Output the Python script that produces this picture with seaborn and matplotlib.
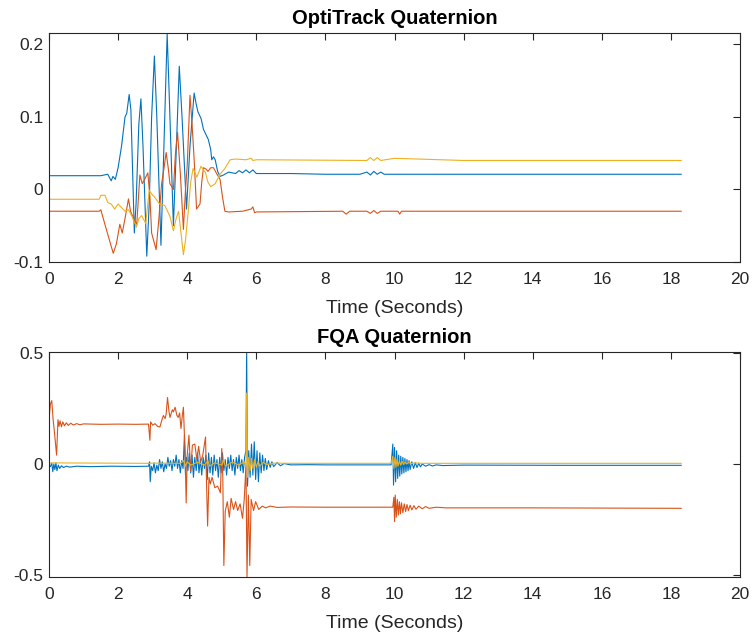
import matplotlib
matplotlib.use("Agg")
import matplotlib.pyplot as plt
import seaborn as sns

# ---- OptiTrack quaternion (top panel) ----
opti_blue_t = [0, 1.5, 1.7, 1.8, 1.85, 1.92, 2.0, 2.1, 2.2, 2.25, 2.32, 2.37, 2.47, 2.52, 2.6, 2.66,
               2.72, 2.83, 2.9, 2.97, 3.05, 3.12, 3.24, 3.32, 3.42, 3.5, 3.6, 3.68, 3.77, 3.85, 3.98,
               4.08, 4.2, 4.25, 4.31, 4.4, 4.47, 4.55, 4.61, 4.68, 4.71, 4.76, 4.81, 4.88, 4.95, 5.05,
               5.2, 5.4, 5.5, 5.6, 5.7, 5.8, 5.9, 6.0, 6.2, 7.0, 8.0, 9.0, 9.2, 9.3, 9.4, 9.5, 9.6,
               9.7, 10.5, 12.0, 14.0, 16.0, 18.3]
opti_blue = [0.019, 0.019, 0.021, 0.012, 0.018, 0.014, 0.03, 0.06, 0.1, 0.105, 0.131, 0.11, -0.06,
             -0.02, 0.09, 0.125, 0.06, -0.092, -0.02, 0.1, 0.184, 0.1, -0.077, 0.05, 0.215, 0.1, -0.05,
             0.05, 0.17, 0.1, -0.027, 0.06, 0.133, 0.12, 0.107, 0.098, 0.083, 0.075, 0.069, 0.055, 0.041,
             0.045, 0.041, 0.025, 0.018, 0.02, 0.024, 0.022, 0.026, 0.023, 0.027, 0.023, 0.027, 0.022,
             0.022, 0.022, 0.021, 0.021, 0.024, 0.02, 0.025, 0.021, 0.024, 0.021, 0.021, 0.021, 0.021,
             0.021, 0.021]

opti_orange_t = [0, 1.45, 1.5, 1.6, 1.75, 1.86, 1.95, 2.05, 2.12, 2.2, 2.3, 2.36, 2.45, 2.54, 2.63,
                 2.7, 2.78, 2.86, 2.92, 2.97, 3.1, 3.18, 3.26, 3.33, 3.39, 3.45, 3.5, 3.6, 3.66, 3.72,
                 3.8, 3.89, 3.95, 4.0, 4.08, 4.14, 4.2, 4.27, 4.37, 4.42, 4.47, 4.55, 4.6, 4.68, 4.76,
                 4.85, 4.95, 5.02, 5.09, 5.2, 5.6, 5.85, 5.9, 5.95, 6.0, 8.5, 8.6, 8.7, 9.2, 9.3, 9.4,
                 9.5, 9.6, 10.1, 10.15, 10.2, 12.0, 18.3]
opti_orange = [-0.030, -0.030, -0.028, -0.045, -0.07, -0.088, -0.075, -0.048, -0.06, -0.04, -0.013,
               -0.03, -0.04, -0.048, 0.02, 0.008, 0.015, 0.023, -0.01, -0.06, -0.083, -0.04, 0.008,
               0.03, 0.051, 0.03, 0.008, 0.0, 0.05, 0.079, 0.023, -0.055, 0.0, 0.033, 0.13, 0.09, 0.042,
               -0.027, -0.02, 0.01, 0.03, 0.028, 0.025, 0.03, 0.03, 0.022, 0.014, -0.01, -0.03, -0.031,
               -0.03, -0.027, -0.024, -0.032, -0.031, -0.030, -0.034, -0.030, -0.030, -0.033, -0.029,
               -0.033, -0.030, -0.030, -0.034, -0.030, -0.030, -0.030]

opti_yellow_t = [0, 1.45, 1.5, 1.62, 1.7, 1.8, 1.9, 2.0, 2.1, 2.2, 2.3, 2.4, 2.53, 2.6, 2.68, 2.8,
                 2.9, 3.0, 3.05, 3.2, 3.35, 3.5, 3.6, 3.68, 3.75, 3.82, 3.89, 3.95, 4.03, 4.1, 4.17,
                 4.28, 4.4, 4.53, 4.6, 4.68, 4.81, 4.95, 5.09, 5.24, 5.4, 5.7, 5.85, 5.9, 6.0, 9.2,
                 9.3, 9.4, 9.5, 9.6, 10.0, 12.0, 18.3]
opti_yellow = [-0.0135, -0.0135, -0.008, -0.008, -0.018, -0.02, -0.027, -0.02, -0.025, -0.03, -0.028,
               -0.037, -0.052, -0.04, -0.036, -0.047, -0.001, -0.008, -0.01, -0.02, -0.022, -0.037,
               -0.057, -0.04, -0.03, -0.06, -0.09, -0.07, -0.03, 0.01, 0.029, 0.017, 0.032, 0.023, 0.01,
               0.004, 0.008, 0.021, 0.029, 0.041, 0.042, 0.041, 0.043, 0.04, 0.041, 0.040, 0.044, 0.040,
               0.044, 0.040, 0.043, 0.040, 0.040]

# ---- FQA quaternion (bottom panel) ----
fqa_blue_t = [0, 0.04, 0.08, 0.11, 0.14, 0.17, 0.2, 0.23, 0.27, 0.31, 0.36, 0.42, 0.5, 0.6, 0.8, 1.2,
              1.8, 2.5, 2.88, 2.91, 2.93, 2.96, 3.0, 3.04, 3.08, 3.12, 3.16, 3.2, 3.24, 3.28, 3.32,
              3.36, 3.4, 3.44, 3.48, 3.52, 3.56, 3.6, 3.64, 3.68, 3.72, 3.76, 3.8, 3.84, 3.88, 3.92,
              3.95, 3.98, 4.02, 4.06, 4.1, 4.14, 4.18, 4.22, 4.26, 4.3, 4.34, 4.38, 4.42, 4.46, 4.5,
              4.54, 4.58, 4.62, 4.66, 4.7, 4.74, 4.78, 4.82, 4.86, 4.9, 4.94, 4.98, 5.02, 5.06, 5.1,
              5.14, 5.18, 5.22, 5.26, 5.3, 5.34, 5.38, 5.42, 5.46, 5.5, 5.54, 5.58, 5.62, 5.66, 5.7,
              5.72, 5.745, 5.78, 5.82, 5.86, 5.9, 5.94, 5.98, 6.02, 6.06, 6.1, 6.14, 6.18, 6.22, 6.26,
              6.3, 6.35, 6.4, 6.45, 6.5, 6.6, 6.7, 6.8, 7.0, 7.5, 8.0, 9.0, 9.9, 9.95, 9.97, 10.0,
              10.03, 10.06, 10.09, 10.12, 10.15, 10.18, 10.21, 10.24, 10.27, 10.3, 10.33, 10.36, 10.39,
              10.42, 10.45, 10.5, 10.55, 10.6, 10.65, 10.7, 10.75, 10.8, 10.9, 11.0, 11.1, 11.2, 11.4,
              12.0, 15.0, 18.3]
fqa_blue = [-0.005, -0.012, 0.004, -0.035, 0.0, -0.025, 0.005, -0.03, -0.005, -0.02, -0.008, -0.016,
            -0.01, -0.014, -0.01, -0.012, -0.01, -0.011, -0.01, 0.01, -0.08, -0.01, -0.03, 0.005,
            -0.04, -0.005, -0.03, 0.02, -0.02, 0.01, -0.035, 0.0, -0.02, 0.03, -0.01, 0.015, -0.03,
            0.02, -0.01, 0.04, -0.02, 0.02, -0.04, 0.015, -0.02, 0.13, -0.05, 0.03, -0.03, 0.05,
            -0.04, 0.04, -0.06, 0.03, -0.03, 0.05, -0.04, 0.02, -0.05, 0.03, -0.02, 0.04, -0.07, 0.05,
            -0.04, 0.03, -0.05, 0.04, -0.03, 0.02, -0.06, 0.03, -0.04, 0.05, -0.03, 0.02, -0.05, 0.03,
            -0.02, 0.04, -0.03, 0.02, -0.05, 0.03, -0.02, 0.04, -0.03, 0.02, -0.04, 0.03, 0.06, 0.52,
            -0.1, 0.06, -0.06, 0.09, -0.05, 0.1, -0.07, 0.06, -0.08, 0.05, -0.04, 0.04, -0.03, 0.025,
            -0.025, 0.015, -0.015, 0.01, -0.012, 0.006, -0.008, 0.002, -0.004, -0.003, -0.004, -0.004,
            -0.004, 0.09, -0.095, 0.075, -0.08, 0.06, -0.065, 0.04, -0.055, 0.035, -0.045, 0.03, -0.04,
            0.025, -0.035, 0.02, -0.03, 0.015, -0.025, 0.01, -0.02, 0.006, -0.016, 0.003, -0.013, 0.0,
            -0.01, -0.003, -0.009, -0.004, -0.007, -0.005, -0.006, -0.006]

fqa_orange_t = [0, 0.04, 0.08, 0.12, 0.16, 0.22, 0.26, 0.29, 0.32, 0.36, 0.4, 0.45, 0.5, 0.56, 0.63,
                0.7, 0.8, 0.9, 1.0, 1.5, 2.0, 2.5, 2.88, 2.92, 2.94, 3.0, 3.07, 3.14, 3.21, 3.27, 3.31,
                3.36, 3.39, 3.43, 3.47, 3.5, 3.57, 3.6, 3.65, 3.7, 3.74, 3.78, 3.82, 3.86, 3.89, 3.94,
                3.97, 4.0, 4.05, 4.1, 4.15, 4.22, 4.28, 4.33, 4.39, 4.45, 4.53, 4.56, 4.59, 4.63, 4.67,
                4.72, 4.8, 4.88, 4.96, 5.0, 5.03, 5.06, 5.1, 5.16, 5.22, 5.27, 5.34, 5.4, 5.46, 5.53,
                5.6, 5.65, 5.7, 5.73, 5.77, 5.81, 5.85, 5.92, 5.98, 6.07, 6.17, 6.27, 6.4, 6.6, 7.0,
                8.0, 9.0, 9.95, 9.98, 10.0, 10.02, 10.05, 10.08, 10.11, 10.14, 10.17, 10.2, 10.24,
                10.28, 10.32, 10.36, 10.4, 10.45, 10.5, 10.56, 10.62, 10.7, 10.8, 10.9, 11.0, 11.2,
                11.5, 14.0, 18.3]
fqa_orange = [0.2, 0.27, 0.286, 0.2, 0.14, 0.04, 0.2, 0.17, 0.195, 0.168, 0.19, 0.172, 0.186, 0.174,
              0.184, 0.176, 0.182, 0.177, 0.181, 0.179, 0.18, 0.179, 0.18, 0.107, 0.19, 0.175, 0.182,
              0.17, 0.167, 0.2, 0.219, 0.205, 0.225, 0.30, 0.24, 0.21, 0.245, 0.235, 0.256, 0.22, 0.21,
              0.23, 0.16, 0.22, 0.256, 0.04, -0.176, 0.04, 0.13, -0.034, 0.085, 0.09, 0.02, 0.08, 0.01,
              0.04, 0.122, -0.094, -0.28, -0.06, -0.09, -0.06, -0.107, -0.1, -0.13, 0.07, -0.06, -0.458,
              -0.213, -0.17, -0.24, -0.155, -0.205, -0.17, -0.21, -0.18, -0.245, -0.16, -0.005, -0.51,
              -0.14, -0.458, -0.16, -0.21, -0.17, -0.205, -0.19, -0.198, -0.19, -0.196, -0.194, -0.195,
              -0.195, -0.195, -0.15, -0.26, -0.14, -0.24, -0.16, -0.23, -0.17, -0.225, -0.175, -0.22,
              -0.18, -0.215, -0.183, -0.21, -0.186, -0.207, -0.188, -0.204, -0.19, -0.202, -0.192,
              -0.2, -0.195, -0.198, -0.198, -0.2]

fqa_yellow_t = [0, 0.1, 2.9, 3.0, 3.8, 3.9, 3.95, 4.0, 4.1, 4.3, 4.5, 4.6, 4.65, 4.8, 5.0, 5.05, 5.1,
                5.3, 5.5, 5.65, 5.7, 5.72, 5.745, 5.78, 5.82, 5.86, 5.9, 5.95, 6.0, 6.05, 6.1, 6.2, 6.3,
                6.5, 7.0, 9.9, 9.95, 9.98, 10.01, 10.04, 10.07, 10.1, 10.14, 10.18, 10.22, 10.26, 10.3,
                10.35, 10.4, 10.5, 10.6, 10.8, 18.3]
fqa_yellow = [0.003, 0.005, 0.003, 0.004, 0.003, 0.015, -0.01, 0.01, -0.005, 0.008, -0.005, 0.015,
              -0.01, 0.006, -0.005, 0.02, -0.01, 0.008, -0.004, 0.01, -0.01, 0.32, -0.06, 0.03, -0.03,
              0.025, -0.02, 0.02, -0.015, 0.012, -0.01, 0.008, -0.003, 0.004, 0.003, 0.003, 0.035,
              -0.02, 0.03, -0.015, 0.022, -0.01, 0.016, -0.006, 0.012, -0.003, 0.009, 0.0, 0.007, 0.002,
              0.005, 0.003, 0.003]

x_ticks = [0, 2, 4, 6, 8, 10, 12, 14, 16, 18, 20]
top_yticks = [-0.1, 0, 0.1, 0.2]
bottom_yticks = [-0.5, 0, 0.5]

colors = ["#0072BD", "#D95319", "#EDB120"]

sns.set_style("white")
plt.rcParams["font.family"] = ["Liberation Sans", "DejaVu Sans"]

fig = plt.figure(figsize=(7.56, 6.39), dpi=100)
ax1 = fig.add_axes([0.0648, 0.590, 0.9142, 0.358])
ax2 = fig.add_axes([0.0648, 0.097, 0.9142, 0.352])

panels = [
    (ax1, [(opti_blue_t, opti_blue), (opti_orange_t, opti_orange), (opti_yellow_t, opti_yellow)],
     "OptiTrack Quaternion", (-0.1, 0.2155), top_yticks),
    (ax2, [(fqa_blue_t, fqa_blue), (fqa_orange_t, fqa_orange), (fqa_yellow_t, fqa_yellow)],
     "FQA Quaternion", (-0.51, 0.505), bottom_yticks),
]

for ax, series, title, ylim, yticks in panels:
    for (t, v), c in zip(series, colors):
        sns.lineplot(x=t, y=v, ax=ax, color=c, linewidth=0.8, sort=False, estimator=None)
    ax.set_xlim(0, 20)
    ax.set_ylim(*ylim)
    ax.set_xticks(x_ticks)
    ax.set_yticks(yticks)
    ax.set_yticklabels([f"{y:g}" for y in yticks])
    ax.set_title(title, fontsize=14.5, fontweight="bold", pad=6.5, color="black")
    ax.set_xlabel("Time (Seconds)", fontsize=14, labelpad=9, color="#262626")
    ax.tick_params(direction="in", top=True, right=True, length=5, width=0.8,
                   labelsize=12.5, colors="#262626")
    ax.tick_params(axis="x", pad=7.5)
    ax.tick_params(axis="y", pad=4)
    for s in ax.spines.values():
        s.set_color("#262626")
        s.set_linewidth(0.8)

fig.savefig("out.png", dpi=100)
